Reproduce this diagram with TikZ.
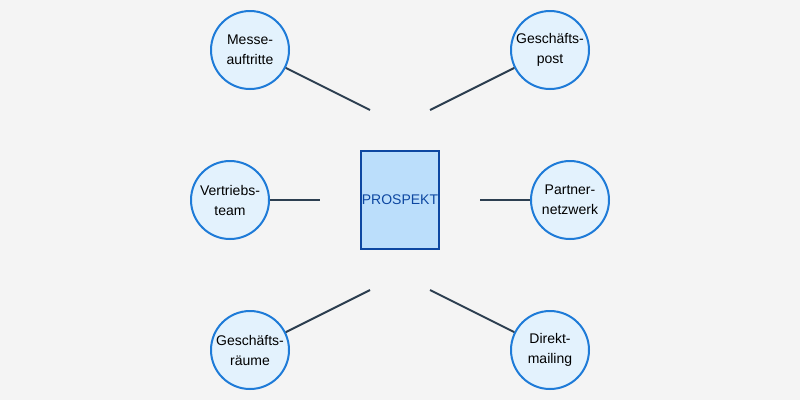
\documentclass[tikz,border=0pt]{standalone}
\usepackage{fontspec}
\setmainfont{Liberation Sans}
\definecolor{bg}{HTML}{F4F4F4}
\definecolor{cfill}{HTML}{E3F2FD}
\definecolor{cdraw}{HTML}{1E7BD8}
\definecolor{rfill}{HTML}{BBDEFB}
\definecolor{rdraw}{HTML}{0D47A1}
\definecolor{lcol}{HTML}{2C3E50}
\begin{document}
\begin{tikzpicture}[x=1pt,y=-1pt,
  chan/.style={circle,draw=cdraw,fill=cfill,line width=2pt,minimum size=78pt,inner sep=0pt,
    align=center,font=\fontsize{14}{20}\selectfont,text=black},
  prosp/.style={rectangle,draw=rdraw,fill=rfill,line width=2pt,minimum width=78pt,minimum height=98pt,
    inner sep=0pt,font=\fontsize{14}{17}\selectfont,text=rdraw},
  conn/.style={draw=lcol,line width=2pt}]
\fill[bg] (0,0) rectangle (800,400);
\useasboundingbox (0,0) rectangle (800,400);
\node[prosp] (p) at (400,200) {PROSPEKT};
\node[chan] (m) at (250,50) {Messe-\\auftritte};
\node[chan] (g) at (550,50) {Geschäfts-\\post};
\node[chan] (v) at (230,200) {Vertriebs-\\team};
\node[chan] (n) at (570,200) {Partner-\\netzwerk};
\node[chan] (r) at (250,350) {Geschäfts-\\räume};
\node[chan] (d) at (550,350) {Direkt-\\mailing};
\coordinate (mE) at (370,110);
\coordinate (gE) at (430,110);
\coordinate (vE) at (320,200);
\coordinate (nE) at (480,200);
\coordinate (rE) at (370,290);
\coordinate (dE) at (430,290);
\draw[conn] (m) -- (mE);
\draw[conn] (g) -- (gE);
\draw[conn] (v) -- (vE);
\draw[conn] (n) -- (nE);
\draw[conn] (r) -- (rE);
\draw[conn] (d) -- (dE);
\end{tikzpicture}
\end{document}
